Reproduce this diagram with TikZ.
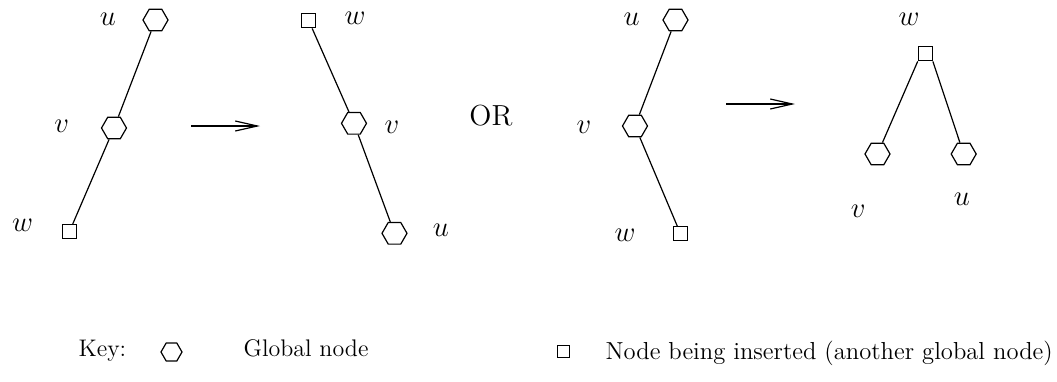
\documentclass[tikz,border=0pt]{standalone}
\usetikzlibrary{shapes.geometric,arrows.meta}
\begin{document}
\begin{tikzpicture}[x=0.5pt, y=-0.5pt, line width=0.6pt, >={Straight Barb[length=11pt,width=5pt]},
    glob/.style={draw, regular polygon, regular polygon sides=6, minimum size=12.5pt, inner sep=0pt},
    ins/.style={draw, minimum size=7pt, inner sep=0pt},
    lbl/.style={font=\fontsize{14}{16}\selectfont, inner sep=0pt},
    keytxt/.style={font=\fontsize{12}{14}\selectfont, inner sep=0pt, anchor=base west}]
    \useasboundingbox (0,0) rectangle (1057,381);
    % before, on the left
    \node[glob] (uA) at (155.5,20) {};
    \node[glob] (vA) at (114,128) {};
    \node[ins] (wA) at (69.5,231.5) {};
    \node[lbl] (luA) at (108,19.5) {$u$};
    \node[lbl] (lvA) at (61.7,126) {$v$};
    \node[lbl] (lwA) at (22.5,225) {$w$};
    \draw (uA) -- (vA) -- (wA);
    \coordinate (a1s) at (191,126);
    \coordinate (a1e) at (260,126);
    \draw[->] (a1s) -- (a1e);
    % after
    \node[ins] (wB) at (308.8,20.8) {};
    \node[glob] (vB) at (354,123.3) {};
    \node[glob] (uB) at (394.5,233.3) {};
    \node[lbl] (lwB) at (355,18.7) {$w$};
    \node[lbl] (lvB) at (392,127) {$v$};
    \node[lbl] (luB) at (441,230.5) {$u$};
    \draw (wB) -- (vB) -- (uB);
    \node[font=\fontsize{14.5}{16}\selectfont, inner sep=0pt] (or) at (491,116) {OR};
    % second case
    \node[glob] (uC) at (675.5,20) {};
    \node[glob] (vC) at (635,126) {};
    \node[ins] (wC) at (680.5,233.7) {};
    \node[lbl] (luC) at (631.7,19.5) {$u$};
    \node[lbl] (lvC) at (584,127) {$v$};
    \node[lbl] (lwC) at (625,235) {$w$};
    \draw (uC) -- (vC) -- (wC);
    \coordinate (a2s) at (726,104);
    \coordinate (a2e) at (795,104);
    \draw[->] (a2s) -- (a2e);
    \node[ins] (wD) at (925.3,53.8) {};
    \node[glob] (vD) at (877.5,154) {};
    \node[glob] (uD) at (963.7,154) {};
    \node[lbl] (lwD) at (909,18.8) {$w$};
    \node[lbl] (lvD) at (858.3,211.7) {$v$};
    \node[lbl] (luD) at (962,199.7) {$u$};
    \draw (vD) -- (wD.south west);
    \draw (wD.south east) -- (uD);
    % key
    \node[keytxt] (key) at (78,356) {Key:};
    \node[glob, minimum size=10.5pt] (kglob) at (171.5,352) {};
    \node[keytxt] (kgtxt) at (243,356.5) {Global node};
    \node[ins, minimum size=6pt] (kins) at (563.5,351.5) {};
    \node[keytxt, font=\fontsize{12.3}{14}\selectfont] (kitxt) at (605,359) {Node being inserted (another global node)};
\end{tikzpicture}
\end{document}
